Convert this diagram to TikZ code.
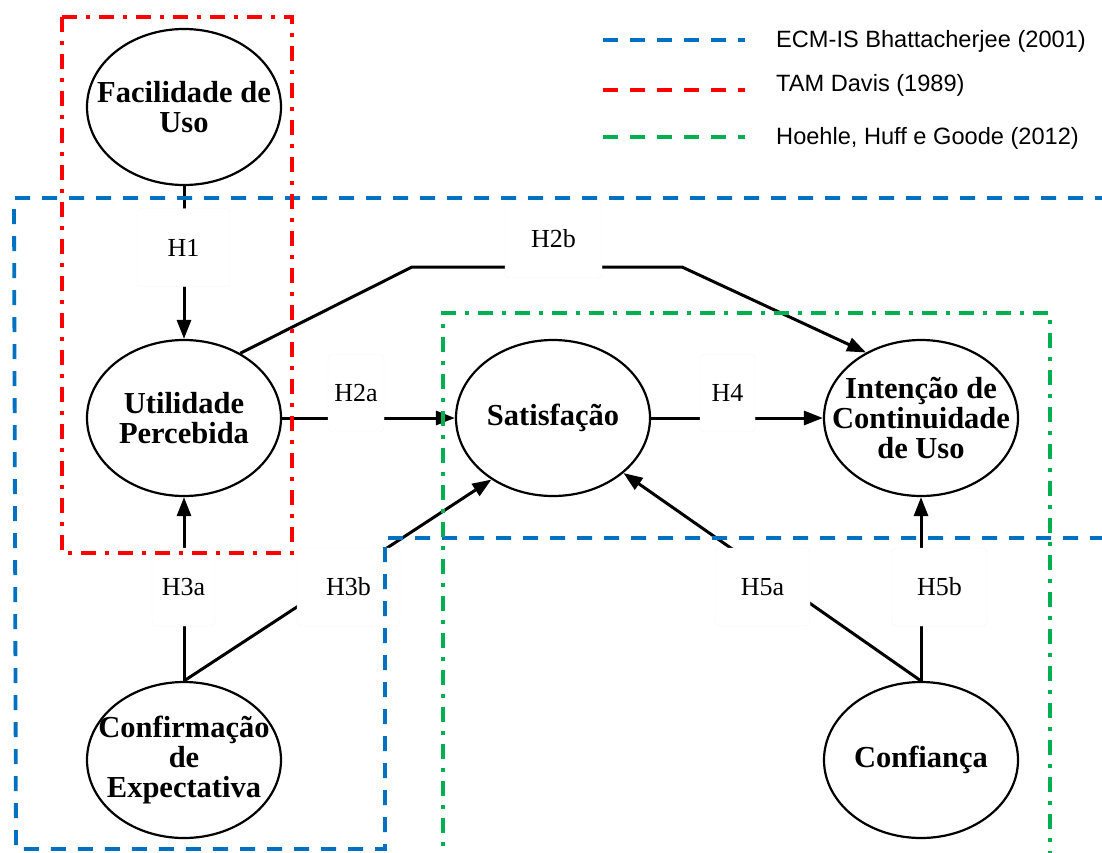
\documentclass[tikz,border=0pt]{standalone}
\usepackage{fontspec}
\setmainfont{Liberation Serif}
\newfontfamily\legfont{Liberation Sans}
\usetikzlibrary{shapes.geometric,arrows.meta}
\definecolor{fblue}{RGB}{0,112,192}
\definecolor{fred}{RGB}{255,0,0}
\definecolor{fgreen}{RGB}{0,176,80}
\begin{document}
\begin{tikzpicture}[x=1pt,y=-1pt,
  ell/.style={ellipse, draw, line width=2.2pt, minimum width=194pt, minimum height=156pt, inner sep=0pt},
  etxt/.style={font=\fontsize{30.5}{30}\selectfont\bfseries, align=center, inner sep=0pt},
  hlab/.style={fill=white, draw=black!4, rounded corners=4pt, minimum height=78pt, inner sep=0pt, font=\fontsize{26}{26}\selectfont},
  conn/.style={line width=3pt},
  arr/.style={conn, -{Triangle[length=19pt,width=14pt]}},
  bluef/.style={draw=fblue, line width=3.8pt, dash pattern=on 15pt off 12pt},
  redleg/.style={draw=fred, line width=3.8pt, dash pattern=on 15pt off 12pt},
  greenleg/.style={draw=fgreen, line width=3.8pt, dash pattern=on 15pt off 12pt},
  redf/.style={draw=fred, line width=3.8pt, dash pattern=on 15pt off 9pt on 4pt off 9pt},
  greenf/.style={draw=fgreen, line width=3.8pt, dash pattern=on 15pt off 9pt on 4pt off 9pt},
  legt/.style={font=\legfont\fontsize{23.6}{24}\selectfont, inner sep=0pt, anchor=base west}
]
\useasboundingbox (0,0) rectangle (1102,852);
\clip (0,0) rectangle (1102,852);

% constructs
\node[ell, label={[etxt]center:{Facilidade de\\Uso}}] (fac) at (184,107) {};
\node[ell, label={[etxt]center:{Utilidade\\Percebida}}] (util) at (184,418) {};
\node[ell, label={[etxt]center:{Satisfação}}] (sat) at (553,418) {};
\node[ell, label={[etxt]center:{Intenção de\\Continuidade\\de Uso}}] (int) at (921,418) {};
\node[ell, label={[etxt]center:{Confirmação\\de\\Expectativa}}] (conf) at (184,760) {};
\node[ell, label={[etxt]center:{Confiança}}] (confi) at (921,760) {};

% connectors
\coordinate (b1) at (412,267);
\coordinate (b2) at (682,267);
\draw[arr] (fac) -- (util);
\draw[arr] (util) -- (sat);
\draw[arr] (sat) -- (int);
\draw[arr] (util.49) -- (b1) -- (b2) -- (int.130);
\draw[arr] (conf) -- (util);
\draw[arr] (conf.north) -- (sat.225);
\draw[arr] (confi.north) -- (sat.322);
\draw[arr] (confi) -- (int);

% hypothesis labels
\node[hlab, minimum width=93pt] (h1) at (183.5,247.5) {H1};
\node[hlab, minimum width=56pt] (h2a) at (356,393) {H2a};
\node[hlab, minimum width=97pt] (h2b) at (553.5,239) {H2b};
\node[hlab, minimum width=55pt] (h4) at (727.5,393) {H4};
\node[hlab, minimum width=63pt] (h3a) at (183.5,587) {H3a};
\node[hlab, minimum width=103pt] (h3b) at (348.5,587) {H3b};
\node[hlab, minimum width=95pt] (h5a) at (762.5,587) {H5a};
\node[hlab, minimum width=95pt] (h5b) at (939.5,587) {H5b};

% frames
\draw[bluef] (1110,198) -- (14,198) -- (16,849) -- (385,849) -- (385,538) -- (1110,538);
\draw[greenf] (443,870) -- (443,313) -- (1050,313) -- (1050,870);
\draw[redf] (62,17) rectangle (292,553);

% legend
\coordinate (l1a) at (603,40); \coordinate (l1b) at (745,40);
\coordinate (l2a) at (603,90); \coordinate (l2b) at (745,90);
\coordinate (l3a) at (603,137); \coordinate (l3b) at (745,137);
\draw[bluef] (l1a) -- (l1b);
\draw[redleg] (l2a) -- (l2b);
\draw[greenleg] (l3a) -- (l3b);
\node[legt] (t1) at (776,47) {ECM-IS Bhattacherjee (2001)};
\node[legt] (t2) at (776,91) {TAM Davis (1989)};
\node[legt] (t3) at (776,144) {Hoehle, Huff e Goode (2012)};
\end{tikzpicture}
\end{document}
